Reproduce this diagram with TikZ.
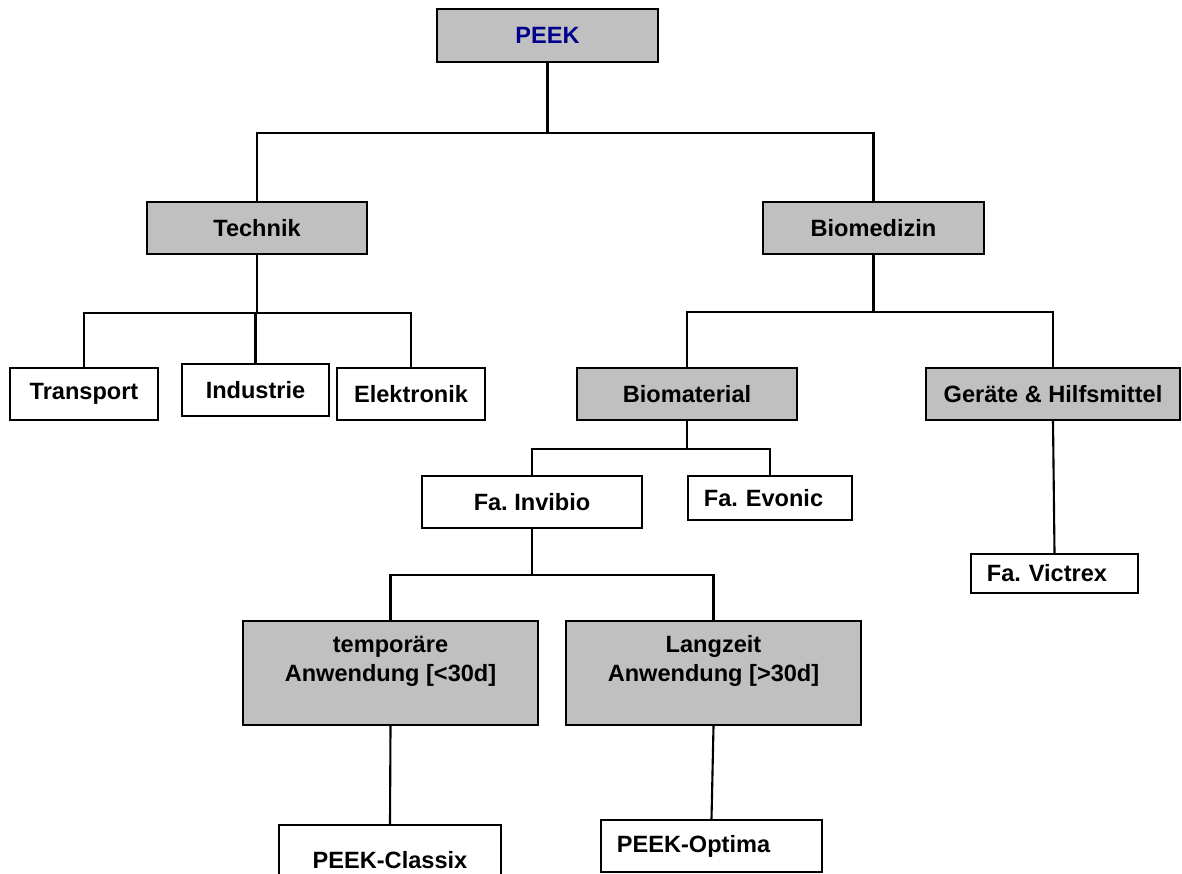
\documentclass[tikz,border=0pt]{standalone}
\usepackage{fontspec}
\setmainfont{Liberation Sans}

\definecolor{boxgray}{RGB}{192,192,192}
\definecolor{peekblue}{RGB}{0,0,140}

\tikzset{
  box/.style={draw=black, line width=0.6pt, inner sep=0pt, align=center,
    font=\bfseries\fontsize{6.7}{8.2}\selectfont},
  graybox/.style={box, fill=boxgray},
  whitebox/.style={box, fill=white},
  leftbox/.style={whitebox, align=left, inner xsep=0.16cm, text width=#1},
  link/.style={line width=0.6pt}
}

\begin{document}
\begin{tikzpicture}[x=0.01cm, y=-0.01cm]
    \clip (0,0) rectangle (1182,874);
    % level 0 and 1
    \node[graybox, text=peekblue, minimum width=2.21cm, minimum height=0.53cm] (peek) at (547.5,35.5) {PEEK};
    \node[graybox, minimum width=2.20cm, minimum height=0.52cm] (tech) at (257,228) {Technik};
    \node[graybox, minimum width=2.21cm, minimum height=0.52cm] (biomed) at (873.5,228) {Biomedizin};
    % Technik
    \node[whitebox, minimum width=1.48cm, minimum height=0.52cm] (transport) at (84,394) {Transport};
    \node[whitebox, minimum width=1.47cm, minimum height=0.52cm] (industrie) at (255.5,390) {Industrie};
    \node[whitebox, minimum width=1.48cm, minimum height=0.52cm] (elektronik) at (411,394) {Elektronik};
    % Biomedizin
    \node[graybox, minimum width=2.20cm, minimum height=0.52cm] (biomat) at (687,394) {Biomaterial};
    \node[graybox, minimum width=2.54cm, minimum height=0.52cm] (geraete) at (1053,394) {Geräte \& Hilfsmittel};
    \node[whitebox, minimum width=2.20cm, minimum height=0.52cm] (invibio) at (532,502) {Fa.\ Invibio};
    \node[leftbox=1.32cm, minimum height=0.44cm] (evonic) at (770,498) {Fa.\ Evonic};
    \node[leftbox=1.35cm, minimum height=0.39cm] (victrex) at (1054.5,573.5) {Fa.\ Victrex};
    % Invibio
    \node[graybox, minimum width=2.95cm, minimum height=1.04cm] (temp) at (390.5,673) {temporäre\\Anwendung [<30d]\\\mbox{}};
    \node[graybox, minimum width=2.95cm, minimum height=1.04cm] (lang) at (713.5,673) {Langzeit\\Anwendung [>30d]\\\mbox{}};
    \node[whitebox, minimum width=2.22cm, minimum height=0.70cm] (classix) at (390,860) {PEEK-Classix};
    \node[leftbox=1.89cm, minimum height=0.52cm] (optima) at (711.5,846) {PEEK-Optima};
    %
    \draw[link] (peek.south) -- ++(0,70) -| (tech.north);
    \draw[link] (peek.south) -- ++(0,70) -| (biomed.north);
    \draw[link] (tech.south) -- ++(0,58) -| (transport.north);
    \draw[link] (tech.south) -- ++(0,58) -| (industrie.north);
    \draw[link] (tech.south) -- ++(0,58) -| (elektronik.north);
    \draw[link] (biomed.south) -- ++(0,57) -| (biomat.north);
    \draw[link] (biomed.south) -- ++(0,57) -| (geraete.north);
    \draw[link] (geraete.south) -- (victrex.north);
    \draw[link] (biomat.south) -- ++(0,28) -| (invibio.north);
    \draw[link] (biomat.south) -- ++(0,28) -| (evonic.north);
    \draw[link] (invibio.south) -- ++(0,46) -| (temp.north);
    \draw[link] (invibio.south) -- ++(0,46) -| (lang.north);
    \draw[link] (temp.south) -- (classix.north);
    \draw[link] (lang.south) -- (optima.north);
\end{tikzpicture}
\end{document}
